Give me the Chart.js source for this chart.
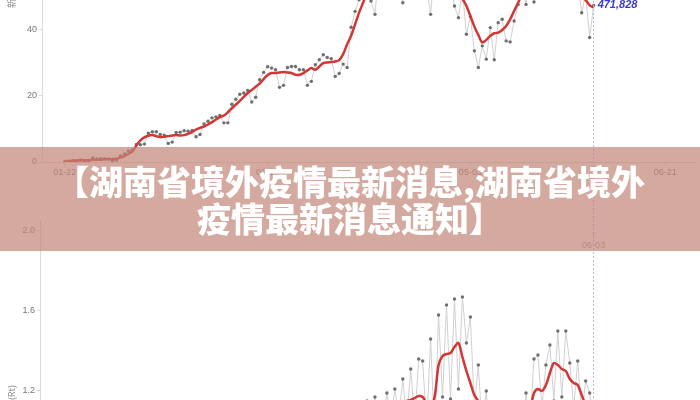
<!DOCTYPE html>
<html>
<head>
<meta charset="utf-8">
<script src="https://cdn.jsdelivr.net/npm/chart.js@4.4.0/dist/chart.umd.min.js"></script>
<style>
html, body { margin: 0; padding: 0; width: 700px; height: 400px; overflow: hidden; background: #fff; }
#wrapTop { position: absolute; left: 0; top: -67px; width: 700px; height: 247px; }
#wrapBot { position: absolute; left: 0; top: 180px; width: 700px; height: 301px; }
.banner {
    position: absolute; left: 0; top: 147px; width: 700px; height: 104px;
    background: rgba(194, 134, 119, 0.7);
    color: #fff; font-family: "Noto Sans CJK SC"; font-weight: 900;
    font-size: 34px; line-height: 37px; text-align: center;
    padding-top: 15px; box-sizing: border-box;
}
</style>
</head>
<body>
<div id="wrapTop"><canvas id="topChart"></canvas></div>
<div id="wrapBot"><canvas id="botChart"></canvas></div>
<div class="banner">【湖南省境外疫情最新消息,湖南省境外<br>疫情最新消息通知】</div>
<script>
// ===== Data (day 0 = 01-22) =====
const tickDays = [0, 51, 102, 151];
const tickLabels = ['01-22', '03-13', '05-03', '06-21'];
const casesTicks = [0, 20, 40];
const rtTicks = [1.2, 1.6, 2.0];
const markerDay = 133;
const markerDate = '06-03';
const markerValue = 47.18;
const markerText = '471,828';
const casesTitle = '新增病例(万)';
const rtTitle = '有效再生数(Rt)';

// daily new cases (万)
const casesDaily = [
    0.2, 0.3, 0.5, 0.5, 0.6, 0.2, 0.3, 1.2, 0.9, 1.0,
    1.0, 0.9, 0.4, 0.6, 1.8, 2.4, 3.3, 3.7, 5.3, 5.2,
    5.4, 8.7, 9.1, 9.1, 8.3, 8.1, 5.6, 6.0, 8.9, 9.0,
    9.4, 9.3, 9.5, 7.6, 8.3, 11.5, 12.3, 13.3, 13.6, 14.0,
    11.8, 11.8, 17.4, 18.9, 20.4, 20.8, 21.6, 18.1, 19.5, 24.8,
    27.0, 28.7, 28.3, 27.8, 22.5, 23.1, 28.5, 28.8, 28.8, 27.8,
    27.8, 23.1, 24.3, 29.3, 30.8, 32.3, 31.5, 31.1, 25.8, 26.7,
    29.5, 28.5, 40.6, 45.4, 48.9, 50.6, 52.3, 48.5, 44.5, 57.6,
    59.9, 60.4, 59.6, 58.3, 52.8, 48.0, 58.6, 59.4, 59.4, 58.6,
    57.8, 53.0, 44.5, 59.1, 59.9, 58.9, 56.6, 53.8, 47.0, 43.5,
    51.8, 38.5, 43.8, 33.5, 28.5, 35.0, 31.0, 40.5, 30.8, 42.0,
    43.0, 36.5, 36.2, 42.5, 47.5, 52.0, 47.5, 57.0, 48.2, 60.0,
    60.5, 59.5, 58.0, 52.0, 50.5, 59.0, 59.5, 58.0, 56.0, 54.0,
    45.0, 50.5, 37.5, 47.18
];
// 7-day average
const casesAvg = [
    0.1, 0.2, 0.3, 0.4, 0.5, 0.5, 0.6, 0.7, 0.7, 0.7,
    0.8, 0.8, 0.9, 1.0, 1.3, 1.8, 2.5, 3.2, 5.0, 6.5,
    7.4, 7.9, 8.1, 7.8, 7.5, 7.6, 7.8, 8.0, 8.1, 8.0,
    8.1, 8.5, 9.0, 9.8, 10.3, 10.7, 11.3, 12.0, 12.8, 13.5,
    14.0, 15.0, 16.2, 17.3, 18.4, 19.6, 20.8, 21.7, 22.7, 23.6,
    25.0, 26.2, 26.8, 26.8, 27.0, 27.1, 27.0, 26.8, 26.3, 26.3,
    26.8, 27.6, 28.3, 27.8, 28.8, 29.8, 30.0, 30.1, 30.3, 30.7,
    32.5, 35.5, 38.0, 41.5, 45.0, 48.0, 51.0, 52.5, 54.0, 55.0,
    56.0, 56.5, 57.0, 57.0, 56.8, 56.5, 56.0, 55.5, 55.5, 56.0,
    56.5, 57.0, 57.0, 56.5, 56.0, 55.0, 54.0, 53.0, 51.8, 50.5,
    49.2, 47.0, 44.0, 40.8, 38.3, 36.0, 36.8, 38.0, 38.8, 39.0,
    39.8, 41.0, 43.0, 45.5, 48.0, 50.5, 53.0, 54.5, 55.5, 56.0,
    56.5, 57.0, 57.0, 56.5, 56.0, 55.5, 55.0, 54.0, 52.5, 51.0,
    49.5, 48.8, 47.2, 46.6
];
// daily Rt
const rtDaily = [
    null, null, null, null, null, null, null, null, null, null,
    null, null, null, null, null, null, null, null, null, null,
    1.10, 0.98, 1.07, 0.95, 1.03, 0.92, 1.00, 0.91, 1.02, 0.94,
    1.05, 0.94, 1.07, 0.96, 1.09, 0.97, 1.06, 0.95, 1.05, 0.93,
    1.04, 0.92, 1.05, 0.94, 1.07, 0.96, 1.10, 0.97, 1.09, 0.95,
    1.07, 0.93, 1.05, 0.91, 1.03, 0.90, 1.02, 0.91, 1.04, 0.92,
    1.07, 0.94, 1.09, 0.96, 1.11, 0.98, 1.12, 0.97, 1.10, 0.95,
    1.10, 0.97, 1.12, 0.99, 1.14, 1.00, 1.15, 1.02, 1.17, 1.03,
    1.05, 1.19, 1.06, 1.21, 1.07, 1.26, 1.06, 1.31, 1.05, 1.36,
    1.35, 1.02, 1.46, 0.98, 1.58, 1.17, 1.63, 1.16, 1.66, 1.21,
    1.67, 1.44, 1.57, 1.12, 1.33, 1.00, 1.20, 0.93, 1.10, 0.94,
    1.08, 0.94, 1.10, 0.95, 1.13, 0.98, 1.19, 1.04, 1.36, 1.38,
    1.12, 1.33, 1.43, 1.15, 1.50, 1.17, 1.50, 1.34, 1.12, 1.35,
    1.08, 1.25, 1.19, 1.02
];
// smoothed Rt
const rtAvg = [
    null, null, null, null, null, null, null, null, null, null,
    null, null, null, null, null, null, null, null, null, null,
    1.05, 1.04, 1.02, 1.00, 0.98, 0.97, 0.96, 0.96, 0.97, 0.98,
    0.99, 1.00, 1.01, 1.02, 1.03, 1.03, 1.02, 1.01, 1.00, 0.99,
    0.98, 0.98, 0.99, 1.00, 1.01, 1.02, 1.03, 1.04, 1.03, 1.02,
    1.01, 1.00, 0.99, 0.98, 0.97, 0.96, 0.96, 0.97, 0.98, 0.99,
    1.00, 1.01, 1.02, 1.03, 1.04, 1.05, 1.05, 1.04, 1.03, 1.02,
    1.03, 1.04, 1.05, 1.06, 1.07, 1.08, 1.08, 1.09, 1.10, 1.10,
    1.11, 1.12, 1.12, 1.13, 1.14, 1.14, 1.15, 1.155, 1.165, 1.175,
    1.17, 1.14, 1.13, 1.17, 1.33, 1.375, 1.385, 1.39, 1.42, 1.44,
    1.37, 1.30, 1.24, 1.18, 1.15, 1.12, 1.09, 1.06, 1.04, 1.02,
    1.01, 1.01, 1.02, 1.03, 1.05, 1.07, 1.09, 1.11, 1.19, 1.21,
    1.20, 1.23, 1.29, 1.34, 1.33, 1.31, 1.30, 1.26, 1.24, 1.23,
    1.18, 1.13, 1.10, 1.08
];

// ===== Styles =====
Chart.defaults.font.family = '"Liberation Sans", Arial, sans-serif';
const labelColor = '#777';
const axisColor = '#dadada';
const redLine = '#d43535';
const grayLine = '#d0d0d0';
const dotColor = '#6e6e6e';
const markerColor = '#b4b6ea';

const toXY = arr => arr.map((v, i) => ({ x: i, y: v }));

function drawMarker(chart, fromY, toY) {
    const ctx = chart.ctx;
    const x = chart.scales.x.getPixelForValue(markerDay);
    ctx.save();
    ctx.strokeStyle = markerColor;
    ctx.lineWidth = 1;
    ctx.setLineDash([2, 2]);
    ctx.beginPath();
    ctx.moveTo(x, fromY);
    ctx.lineTo(x, toY);
    ctx.stroke();
    ctx.restore();
    return x;
}

function drawTitle(chart, text, x, y, align) {
    const ctx = chart.ctx;
    ctx.save();
    ctx.translate(x, y);
    ctx.rotate(-Math.PI / 2);
    ctx.fillStyle = '#888';
    ctx.font = '9px "Noto Sans CJK SC"';
    ctx.textAlign = align;
    ctx.textBaseline = 'middle';
    ctx.fillText(text, 0, 0);
    ctx.restore();
}

const topExtras = {
    id: 'topExtras',
    afterDatasetsDraw(chart) {
        const x = drawMarker(chart, 0, chart.height);
        const ctx = chart.ctx;
        const y = chart.scales.y.getPixelForValue(markerValue);
        ctx.save();
        ctx.fillStyle = '#3a3ad0';
        ctx.font = 'italic bold 11px "Liberation Sans", Arial';
        ctx.textBaseline = 'middle';
        ctx.fillText(markerText, x + 4, y);
        ctx.restore();
        drawTitle(chart, casesTitle, 12, 75, 'left');
    }
};

const botExtras = {
    id: 'botExtras',
    afterDatasetsDraw(chart) {
        const x = drawMarker(chart, 0, chart.height);
        const ctx = chart.ctx;
        ctx.save();
        ctx.strokeStyle = '#bbb';
        ctx.beginPath();
        ctx.moveTo(x, 52);
        ctx.lineTo(x, 59);
        ctx.stroke();
        ctx.fillStyle = '#999';
        ctx.font = '9px "Liberation Sans", Arial';
        ctx.textAlign = 'center';
        ctx.textBaseline = 'middle';
        ctx.fillText(markerDate, x, 66);
        ctx.restore();
        drawTitle(chart, rtTitle, 12, 205, 'right');
    }
};

// ===== Top chart: daily cases =====
new Chart(document.getElementById('topChart'), {
    type: 'line',
    data: {
        datasets: [
            {
                data: toXY(casesAvg),
                borderColor: redLine,
                borderWidth: 2.5,
                pointRadius: 0,
                tension: 0.3
            },
            {
                data: toXY(casesDaily),
                borderColor: grayLine,
                borderWidth: 1,
                pointRadius: 1.7,
                pointBackgroundColor: dotColor,
                pointBorderWidth: 0,
                tension: 0
            }
        ]
    },
    options: {
        animation: false,
        responsive: true,
        maintainAspectRatio: false,
        layout: { padding: { top: 10, right: 0, left: 0, bottom: 0 } },
        plugins: { legend: { display: false }, tooltip: { enabled: false } },
        scales: {
            x: {
                type: 'linear',
                min: -5.75,
                max: 158.75,
                afterBuildTicks: s => { s.ticks = tickDays.map(v => ({ value: v })); },
                afterFit: s => { s.height = 18; },
                ticks: {
                    callback: v => tickLabels[tickDays.indexOf(v)],
                    color: labelColor, font: { size: 9 },
                    maxRotation: 0, autoSkip: false, padding: 1
                },
                grid: { drawOnChartArea: false, tickLength: 4, color: axisColor },
                border: { color: axisColor }
            },
            y: {
                min: 0,
                max: 66,
                afterBuildTicks: s => { s.ticks = casesTicks.map(v => ({ value: v })); },
                afterFit: s => { s.width = 42; },
                ticks: { color: labelColor, font: { size: 9 }, padding: 2 },
                grid: { drawOnChartArea: false, tickLength: 3, color: axisColor },
                border: { color: axisColor }
            }
        }
    },
    plugins: [topExtras]
});

// ===== Bottom chart: Rt =====
new Chart(document.getElementById('botChart'), {
    type: 'line',
    data: {
        datasets: [
            {
                data: toXY(rtAvg),
                borderColor: redLine,
                borderWidth: 2.5,
                pointRadius: 0,
                tension: 0.3
            },
            {
                data: toXY(rtDaily),
                borderColor: grayLine,
                borderWidth: 1,
                pointRadius: 1.7,
                pointBackgroundColor: dotColor,
                pointBorderWidth: 0,
                tension: 0
            }
        ]
    },
    options: {
        animation: false,
        responsive: true,
        maintainAspectRatio: false,
        layout: { padding: { top: 41, right: 0, left: 0, bottom: 0 } },
        plugins: { legend: { display: false }, tooltip: { enabled: false } },
        scales: {
            x: {
                type: 'linear',
                min: -6.25,
                max: 158.75,
                afterFit: s => { s.height = 10; },
                ticks: { display: false },
                grid: { display: false },
                border: { color: axisColor }
            },
            y: {
                min: 0.8,
                max: 2.05,
                afterBuildTicks: s => { s.ticks = rtTicks.map(v => ({ value: v })); },
                afterFit: s => { s.width = 40; },
                ticks: { color: labelColor, font: { size: 9 }, padding: 2, callback: v => v.toFixed(1) },
                grid: { drawOnChartArea: false, tickLength: 3, color: axisColor },
                border: { color: axisColor }
            }
        }
    },
    plugins: [botExtras]
});
</script>
</body>
</html>
